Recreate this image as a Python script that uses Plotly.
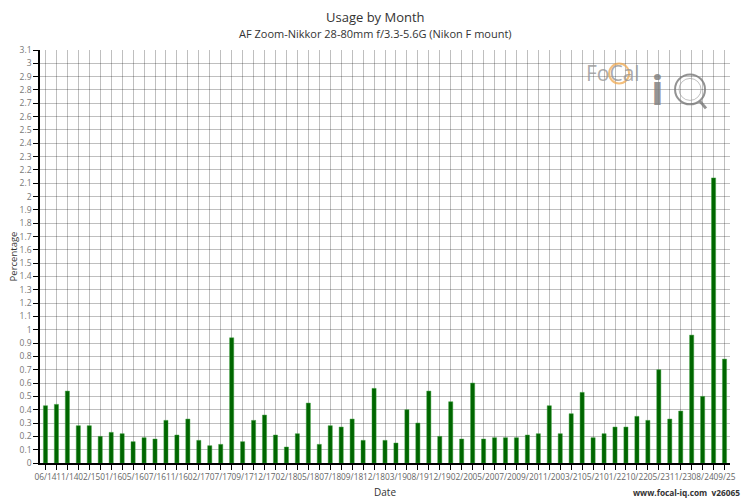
import plotly.graph_objects as go

months = ["06/14", "09/14", "11/14", "12/14", "02/15", "06/15", "01/16", "03/16", "05/16", "06/16",
          "07/16", "09/16", "11/16", "12/16", "02/17", "04/17", "07/17", "08/17", "09/17", "10/17",
          "12/17", "01/18", "02/18", "03/18", "05/18", "06/18", "07/18", "08/18", "09/18", "10/18",
          "12/18", "01/19", "03/19", "05/19", "08/19", "10/19", "12/19", "01/20", "02/20", "03/20",
          "05/20", "06/20", "07/20", "08/20", "09/20", "10/20", "11/20", "01/21", "03/21", "04/21",
          "05/21", "09/21", "01/22", "05/22", "10/22", "01/23", "05/23", "08/23", "11/23", "03/24",
          "08/24", "02/25", "09/25"]

usage = [0.43, 0.44, 0.54, 0.28, 0.28, 0.20, 0.23, 0.22, 0.16, 0.19, 0.18, 0.32, 0.21, 0.33, 0.17,
         0.13, 0.14, 0.94, 0.16, 0.32, 0.36,
         0.21, 0.12, 0.22, 0.45, 0.14, 0.28, 0.27, 0.33, 0.17, 0.56, 0.17, 0.15, 0.40, 0.30, 0.54,
         0.20, 0.46, 0.18, 0.60, 0.18, 0.19,
         0.19, 0.19, 0.21, 0.22, 0.43, 0.22, 0.37, 0.53, 0.19, 0.22, 0.27, 0.27, 0.35, 0.32, 0.70,
         0.33, 0.39, 0.96, 0.50, 2.14, 0.78]

tick_text = [m if i % 2 == 0 else "" for i, m in enumerate(months)]
y_ticks = [round(i * 0.1, 1) for i in range(32)]
y_text = [("%g" % v) for v in y_ticks]

TITLE = "Usage by Month"
SUBTITLE = "AF Zoom-Nikkor 28-80mm f/3.3-5.6G (Nikon F mount)"
FOOTER = "www.focal-iq.com  v26065"

FONT = "Open Sans"

fig = go.Figure()
fig.add_trace(go.Bar(
    x=months, y=usage, width=0.38,
    marker=dict(color="#006600", line=dict(color="rgba(60,160,60,0.45)", width=1)),
    hoverinfo="x+y",
))

# plot area in pixels: left 39.5, right 730, top 49.5, bottom 463.5
L, R, T, B = 39.5, 730.0, 49.5, 463.5
def px(x):
    return (x - L) / (R - L)
def py(y):
    return (B - y) / (B - T)

shapes = [
    dict(type="circle", xref="paper", yref="paper",
         x0=px(609), x1=px(629), y0=py(83), y1=py(63),
         line=dict(color="rgba(240,170,80,0.75)", width=2), layer="above"),
    dict(type="circle", xref="paper", yref="paper",
         x0=px(675), x1=px(705), y0=py(104), y1=py(74),
         line=dict(color="rgba(120,120,120,0.8)", width=2), layer="above"),
    dict(type="circle", xref="paper", yref="paper",
         x0=px(679), x1=px(701), y0=py(100), y1=py(78),
         line=dict(color="rgba(150,150,150,0.6)", width=1), layer="above"),
    dict(type="line", xref="paper", yref="paper",
         x0=px(700), x1=px(706), y0=py(101), y1=py(108),
         line=dict(color="rgba(120,120,120,0.8)", width=3), layer="above"),
]

annotations = [
    dict(text=TITLE, xref="paper", yref="paper", x=px(375), y=py(16), xanchor="center",
         yanchor="middle", showarrow=False,
         font=dict(family=FONT, size=13, color="#333")),
    dict(text=SUBTITLE, xref="paper", yref="paper", x=px(375), y=py(33), xanchor="center",
         yanchor="middle", showarrow=False,
         font=dict(family=FONT, size=11, color="#333")),
    dict(text="FoCal", xref="paper", yref="paper", x=px(584), y=py(73), xanchor="left",
         yanchor="middle", showarrow=False,
         font=dict(family=FONT, size=21, color="rgba(150,150,150,0.8)")),
    dict(text="<b>i</b>", xref="paper", yref="paper", x=px(657), y=py(88), xanchor="center",
         yanchor="middle", showarrow=False,
         font=dict(family=FONT, size=42, color="rgba(130,130,130,0.85)")),
    dict(text="<b>" + FOOTER + "</b>", xref="paper", yref="paper",
         x=px(742), y=py(493), xanchor="right", yanchor="middle", showarrow=False,
         font=dict(family=FONT, size=8.3, color="#333")),
]

fig.update_layout(
    width=750, height=500,
    margin=dict(l=L, r=750 - R, t=T, b=500 - B, autoexpand=False),
    paper_bgcolor="white", plot_bgcolor="white",
    showlegend=False,
    font=dict(family=FONT, color="#555"),
    xaxis=dict(
        type="category", categoryorder="array", categoryarray=months,
        tickmode="array", tickvals=months, ticktext=tick_text, tickangle=0,
        range=[-0.5, len(months) - 0.5], automargin=False,
        showgrid=True, gridcolor="rgba(0,0,0,0.25)", gridwidth=1,
        showline=True, linecolor="black", linewidth=1.5,
        ticks="outside", ticklen=5, tickcolor="black",
        tickfont=dict(family=FONT, size=8.3, color="#666"),
        title=dict(text="Date", font=dict(family=FONT, size=10, color="#333"), standoff=8),
        fixedrange=True,
    ),
    yaxis=dict(
        range=[0, 3.1], tickmode="array", tickvals=y_ticks, ticktext=y_text,
        automargin=False,
        showgrid=True, gridcolor="rgba(0,0,0,0.25)", gridwidth=1,
        showline=True, linecolor="black", linewidth=1.5,
        ticks="outside", ticklen=5, tickcolor="black",
        tickfont=dict(family=FONT, size=8.5, color="#777"),
        title=dict(text="Percentage", font=dict(family=FONT, size=9.5, color="#333"), standoff=0),
        zeroline=False, fixedrange=True,
    ),
    shapes=shapes,
    annotations=annotations,
    bargap=0.6,
)

fig.write_html("out.html", config={"displayModeBar": False},
               post_script="document.body.style.margin='0';document.body.style.padding='0';")
